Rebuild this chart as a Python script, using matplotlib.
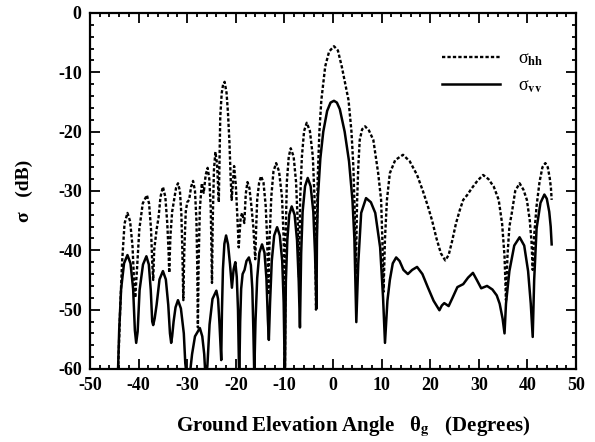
import matplotlib
matplotlib.use("Agg")
import matplotlib.pyplot as plt
from matplotlib.ticker import MultipleLocator

# ---------------- data ----------------
vv_x = [-44.3, -44.0, -43.6, -43.0, -42.3, -41.67, -41.13, -40.77, -40.5,
        -40.2, -39.8, -39.1, -38.4, -37.9, -37.5, -37.2, -37.0,
        -36.7, -36.3, -35.7, -35.0, -34.4, -33.9, -33.55, -33.3,
        -33.1, -32.8, -32.4, -31.9, -31.3, -30.7, -30.4, -30.0,
        -29.6, -29.0, -28.4, -27.4, -26.9, -26.5, -26.2,
        -25.85, -25.4, -24.8, -24.0, -23.65, -23.35, -23.15, -23.0,
        -22.85, -22.65, -22.35, -22.0, -21.6, -21.2, -20.8, -20.45, -20.1, -19.8, -19.55, -19.3,
        -19.1, -18.9, -18.6, -18.2, -17.8, -17.3, -16.9, -16.6, -16.4, -16.2,
        -15.95, -15.6, -15.15, -14.6, -14.1, -13.7, -13.4, -13.2,
        -12.95, -12.6, -12.1, -11.5, -10.95, -10.45, -10.15, -9.9,
        -9.7, -9.4, -9.0, -8.5, -7.9, -7.4, -7.05, -6.8,
        -6.55, -6.25, -5.75, -5.2, -4.6, -4.05, -3.7, -3.4,
        -3.3, -3.1, -2.6, -2.0, -1.2, -0.5, 0.2, 0.8, 1.4, 2.4, 3.3, 4.0, 4.4, 4.8,
        5.0, 5.2, 5.8, 6.8, 7.8, 8.7, 9.7, 10.3, 10.7,
        11.2, 11.7, 12.3, 13.0, 13.7, 14.5, 15.4, 16.3, 17.3, 18.4, 19.5, 20.7, 21.9,
        22.4, 22.9, 23.8, 24.6, 25.6, 26.8, 27.8, 28.8, 29.6, 30.5, 31.7, 32.8, 33.7,
        34.3, 34.9, 35.3, 35.6, 36.3, 37.3, 38.4, 39.35, 40.15, 40.7, 41.1,
        41.4, 41.9, 42.7, 43.5, 44.0, 44.5, 44.8, 45.0]
vv_y = [-62, -53.5, -46.5, -42.2, -40.8, -42.2, -46.5, -53.5, -55.6,
        -53.7, -46.7, -42.4, -41.0, -42.4, -46.7, -52.0, -52.6,
        -51.5, -49.2, -44.9, -43.5, -44.9, -49.2, -54.0, -55.6,
        -54.5, -52.0, -49.6, -48.4, -49.8, -54.0, -59.0, -62,
        -62, -57.5, -54.5, -53.1, -54.5, -57.5, -62,
        -59.5, -52.5, -48.2, -46.8, -48.2, -52.5, -56.0, -58.5,
        -50.2, -43.2, -38.9, -37.5, -39.0, -42.3, -46.3, -43.2, -42.0, -44.5, -50.0, -62,
        -52.0, -46.5, -44.0, -43.3, -41.8, -41.2, -42.5, -46.5, -53.0, -61,
        -52.0, -44.7, -40.4, -39.0, -40.4, -44.7, -51.7, -55.1,
        -48.8, -41.8, -37.5, -36.1, -37.5, -41.8, -48.8, -62,
        -45.3, -38.3, -34.0, -32.6, -34.0, -38.3, -45.3, -53.0,
        -40.5, -33.5, -29.2, -27.8, -29.2, -33.5, -40.5, -49.8,
        -38.0, -31.0, -24.5, -20.0, -16.5, -15.1, -14.8, -15.1, -16.2, -20.0, -25.0, -31.5, -38.0, -52.1,
        -47.0, -42.2, -33.7, -31.2, -31.9, -33.7, -39.5, -47.9, -55.6,
        -48.5, -45.0, -42.2, -41.2, -41.8, -43.3, -44.0, -43.3, -42.8, -44.0, -46.2, -48.5, -50.1,
        -49.3, -48.9, -49.4, -48.0, -46.2, -45.7, -44.6, -43.8, -45.0, -46.4, -46.0, -46.6, -47.6,
        -49.0, -51.5, -54.0, -49.0, -43.5, -39.2, -37.8, -39.2, -43.5, -49.0, -54.6,
        -45.0, -36.3, -32.0, -30.6, -31.3, -33.5, -36.0, -39.0]

hh_x = [-44.3, -43.8, -43.4, -42.9, -42.3, -41.75, -41.25, -40.95, -40.7,
        -40.35, -39.85, -39.15, -38.3, -37.85, -37.45, -37.2, -37.0,
        -36.8, -36.3, -35.9, -35.5, -35.0, -34.5, -34.1, -33.85, -33.7,
        -33.45, -33.1, -32.7, -32.3, -31.9, -31.5, -31.2, -31.0, -30.8,
        -30.6, -30.3, -30.0, -29.6, -29.2, -28.8, -28.4, -28.1, -27.95, -27.8,
        -27.65, -27.4, -27.0, -26.6, -26.2, -25.8, -25.45, -25.15, -24.9,
        -24.75, -24.5, -24.2, -23.85, -23.5,
        -23.35, -23.2, -22.9, -22.6, -22.3, -21.9, -21.6, -21.3, -21.05, -20.85,
        -20.35, -20.0, -19.7, -19.4,
        -19.0, -18.7, -18.25, -17.95, -17.6, -17.2, -16.8, -16.4, -16.0,
        -15.8, -15.6, -15.2, -14.8, -14.3, -13.85, -13.55, -13.3,
        -13.05, -12.7, -12.25, -11.7, -11.1, -10.5, -10.15, -10.0, -9.9,
        -9.75, -9.5, -9.1, -8.7, -8.1, -7.6, -7.25, -7.0,
        -6.75, -6.4, -5.95, -5.4, -4.75, -4.15, -3.8, -3.6, -3.5,
        -3.35, -3.15, -2.8, -2.4, -1.6, -0.8, 0.2, 1.0, 1.8, 2.6, 3.2, 3.8, 4.2, 4.45, 4.7,
        4.95, 5.2, 5.5, 6.0, 6.6, 7.4, 8.3, 9.3, 9.9, 10.15, 10.4,
        10.7, 11.1, 11.7, 12.8, 14.4, 15.8, 17.3, 18.5, 19.5, 20.4, 21.3, 22.2, 23.1,
        23.8, 24.5, 25.3, 26.1, 26.8, 27.6, 28.6, 29.7, 30.9, 32.0, 33.1, 34.1, 34.8,
        35.3, 35.6, 35.9, 36.3, 36.8, 37.5, 38.4, 39.2, 39.9, 40.5, 40.85, 41.1,
        41.4, 41.9, 42.5, 43.1, 43.7, 44.2, 44.6, 44.85, 45.0]
hh_y = [-62, -50.0, -42.0, -35.5, -33.7, -35.1, -39.4, -45.0, -48.0,
        -43.4, -36.4, -32.1, -30.7, -32.1, -36.4, -42.0, -45.0,
        -40.0, -36.5, -34.5, -31.0, -29.3, -31.0, -35.5, -40.0, -43.8,
        -37.5, -33.5, -31.5, -29.5, -28.7, -30.0, -34.0, -40.0, -48.4,
        -40.0, -33.5, -31.9, -31.5, -29.3, -28.3, -30.0, -35.0, -42.0, -53.0,
        -42.0, -33.0, -28.7, -30.3, -27.3, -26.1, -28.0, -33.0, -45.5,
        -35.0, -26.5, -23.4, -25.5, -31.9,
        -25.0, -17.5, -13.5, -12.0, -11.6, -13.5, -17.0, -22.0, -28.0, -31.5,
        -25.8, -29.0, -34.0, -39.5,
        -34.5, -33.7, -35.4, -30.5, -28.5, -29.5, -32.5, -36.0, -41.5,
        -36.0, -31.5, -28.6, -27.5, -28.6, -32.5, -38.0, -47.5,
        -38.0, -31.0, -26.7, -25.3, -26.7, -31.0, -38.0, -48.0, -62,
        -38.0, -28.5, -24.2, -22.8, -24.2, -28.5, -35.5, -44.5,
        -31.2, -24.2, -19.9, -18.5, -19.9, -24.2, -31.2, -40.0, -50.0,
        -38.0, -28.0, -20.0, -14.7, -9.0, -6.5, -5.6, -6.3, -9.0, -12.3, -14.7, -20.0, -26.0, -33.0, -44.0,
        -32.0, -26.0, -21.4, -19.6, -19.1, -19.8, -21.4, -27.0, -31.5, -38.0, -47.0,
        -38.0, -31.5, -27.0, -24.8, -23.9, -25.0, -27.3, -30.0, -32.5, -35.0, -38.0, -40.5, -41.7,
        -40.8, -38.5, -35.5, -33.2, -31.5, -30.7, -29.5, -28.3, -27.3, -28.0, -29.3, -31.5, -35.5,
        -41.0, -48.4, -41.0, -36.0, -33.7, -30.0, -28.7, -29.8, -31.5, -35.0, -38.5, -43.3,
        -37.5, -32.5, -28.5, -26.0, -25.3, -26.0, -27.8, -29.5, -31.5]

series_labels = [r'σ$_{\mathbf{hh}}$', r'σ$_{\mathbf{vv}}$']
x_label = r'Ground Elevation Angle   θ$_{\mathbf{g}}$   (Degrees)'
y_label = 'σ   (dB)'

# ---------------- styling ----------------
plt.rcParams['font.family'] = ['Liberation Serif', 'DejaVu Serif']
plt.rcParams['mathtext.fontset'] = 'stix'
plt.rcParams['axes.unicode_minus'] = False

fig = plt.figure(figsize=(5.95, 4.42), dpi=100)
ax = fig.add_axes([0.1513, 0.1652, 0.968 - 0.1513, 0.9706 - 0.1652])

ax.plot(hh_x, hh_y, color='black', lw=1.7, linestyle=(0, (1.4, 0.9)),
        label=series_labels[0])
ax.plot(vv_x, vv_y, color='black', lw=1.8, linestyle='-',
        label=series_labels[1])

ax.set_xlim(-50, 50)
ax.set_ylim(-60, 0)
ax.xaxis.set_major_locator(MultipleLocator(10))
ax.xaxis.set_minor_locator(MultipleLocator(2))
ax.yaxis.set_major_locator(MultipleLocator(10))
ax.yaxis.set_minor_locator(MultipleLocator(2))
ax.tick_params(which='both', direction='in', top=True, right=True, width=1.3)
ax.tick_params(which='major', length=7, labelsize=13, pad=6)
ax.tick_params(which='minor', length=3)
for lab in ax.get_xticklabels() + ax.get_yticklabels():
    lab.set_fontweight('bold')
for sp in ax.spines.values():
    sp.set_linewidth(1.6)

ax.set_xlabel(x_label, fontsize=15, fontweight='bold')
ax.xaxis.set_label_coords(0.541, -0.128)
ax.set_ylabel(y_label, fontsize=14, fontweight='bold', labelpad=18)

leg = ax.legend(loc='upper left', bbox_to_anchor=(0.71, 0.915), frameon=False,
                handlelength=3.2, handletextpad=1.0, labelspacing=0.55,
                fontsize=13, borderaxespad=0)

fig.savefig('out.png', dpi=100)
